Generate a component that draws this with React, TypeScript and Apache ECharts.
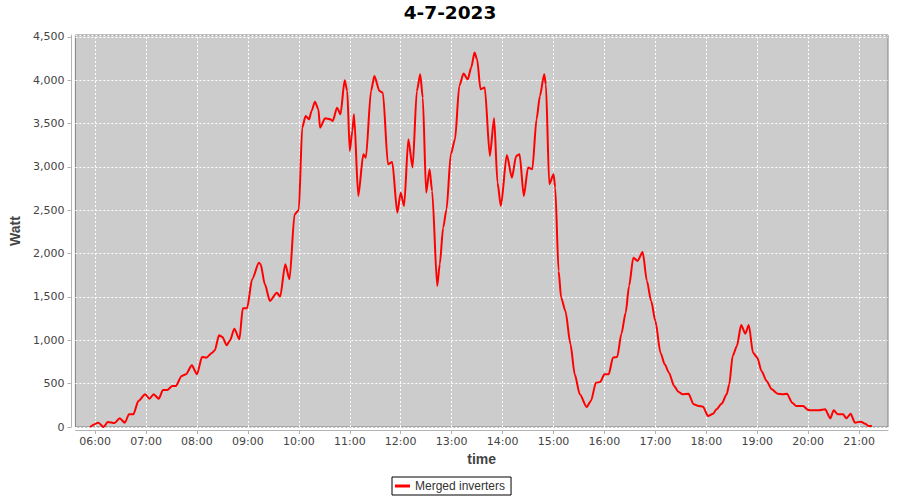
import React, { useEffect, useRef } from "react";
import * as echarts from "echarts";

const chartTitle = "4-7-2023";
const seriesName = "Merged inverters";
const yAxisName = "Watt";
const xAxisName = "time";

const times = [
  "05:54","06:04","06:10","06:15","06:23","06:29","06:35","06:40","06:45","06:51",
  "06:59","07:04","07:09","07:15","07:20","07:25","07:31","07:35","07:42","07:47",
  "07:54","08:00","08:06","08:11","08:18","08:21","08:26","08:30","08:35","08:39",
  "08:44","08:50","08:54","08:59","09:05","09:13","09:15","09:20","09:26","09:34",
  "09:38","09:44","09:49","09:55","10:00","10:04","10:08","10:12","10:15","10:19",
  "10:23","10:25","10:31","10:37","10:40","10:45","10:49","10:54","10:57","11:00",
  "11:03","11:05","11:10","11:16","11:19","11:25","11:29","11:35","11:39","11:45",
  "11:50","11:56","12:00","12:04","12:09","12:14","12:19","12:23","12:26","12:30",
  "12:34","12:37","12:43","12:46","12:50","12:54","12:59","13:04","13:09","13:14",
  "13:19","13:23","13:27","13:30","13:34","13:39","13:45","13:50","13:54","13:58",
  "14:05","14:11","14:16","14:20","14:25","14:30","14:35","14:40","14:44","14:49",
  "14:51","14:55","15:00","15:02","15:06","15:09","15:14","15:20","15:25","15:31",
  "15:39","15:44","15:50","15:55","16:00","16:05","16:10","16:15","16:20","16:25",
  "16:29","16:34","16:39","16:45","16:50","16:55","17:00","17:06","17:11","17:16",
  "17:22","17:27","17:32","17:39","17:45","17:51","17:56","18:02","18:08","18:12",
  "18:18","18:24","18:27","18:31","18:36","18:41","18:46","18:50","18:55","19:00",
  "19:05","19:11","19:17","19:24","19:30","19:35","19:41","19:46","19:54","20:00",
  "20:06","20:13","20:20","20:26","20:30","20:35","20:41","20:45","20:50","20:55",
  "21:02","21:07","21:11","21:15"
];

const watts = [
  0,50,0,58,45,100,50,146,146,300,
  377,327,377,327,427,427,473,473,588,608,
  712,608,808,800,858,885,1058,1038,943,1000,
  1134,1012,1370,1370,1704,1896,1877,1646,1454,1550,
  1504,1877,1704,2454,2504,3454,3589,3550,3646,3754,
  3665,3454,3562,3550,3531,3685,3608,4000,3877,3185,
  3416,3608,2666,3147,3108,3877,4050,3877,3858,3031,
  3058,2473,2704,2550,3320,2993,3877,4070,3800,2704,
  2974,2723,1627,1877,2300,2512,3147,3320,3935,4078,
  4012,4147,4320,4243,3897,3916,3127,3562,2820,2550,
  3139,2877,3127,3147,2666,2993,2974,3550,3820,4070,
  3954,2800,2916,2762,1800,1492,1339,954,608,377,
  231,300,511,519,608,608,800,808,1077,1319,
  1627,1954,1916,2020,1685,1454,1223,858,723,627,
  473,408,377,385,262,242,235,127,154,204,
  269,377,492,819,935,1177,1077,1177,858,800,
  646,531,435,385,377,385,281,242,242,196,
  192,192,204,100,192,146,146,100,154,50,
  62,38,12,12
];

const hourTicks = [
  "06:00","07:00","08:00","09:00","10:00","11:00","12:00","13:00",
  "14:00","15:00","16:00","17:00","18:00","19:00","20:00","21:00"
];

const xMinTime = "05:36.8";
const xMaxTime = "21:34";
const yMin = 0;
const yMax = 4523;
const yStep = 500;

function toMinutes(t: string): number {
  const [h, m] = t.split(":");
  return parseInt(h, 10) * 60 + parseFloat(m);
}

function fmtMinutes(v: number): string {
  const h = Math.floor(v / 60);
  const m = Math.round(v - h * 60);
  return String(h).padStart(2, "0") + ":" + String(m).padStart(2, "0");
}

export default function App() {
  const ref = useRef<HTMLDivElement>(null);

  useEffect(() => {
    if (!ref.current) return;
    const chart = echarts.init(ref.current, null, { renderer: "svg" });
    const data = times.map((t, i) => [toMinutes(t), watts[i]]);
    const tickVals = hourTicks.map(toMinutes);
    const axisGray = "#b4b4b4";
    const labelColor = "#444444";
    const gridLineStyle = { color: "#ffffff", width: 1, type: [2, 2] as number[] };

    chart.setOption({
      animation: false,
      backgroundColor: "#ffffff",
      title: {
        text: chartTitle,
        left: "center",
        top: 3,
        padding: 0,
        textStyle: {
          fontFamily: "DejaVu Sans",
          fontSize: 18.5,
          fontWeight: "bold",
          color: "#000000",
        },
      },
      legend: {
        left: 392,
        top: 477,
        padding: [3, 6, 3, 3],
        borderColor: "#000000",
        borderWidth: 1,
        itemWidth: 15,
        itemHeight: 3,
        icon: "rect",
        textStyle: {
          fontFamily: "Liberation Sans",
          fontSize: 12,
          color: "#333333",
        },
        data: [seriesName],
      },
      grid: {
        left: 75,
        right: 12,
        top: 35,
        bottom: 73,
        show: true,
        backgroundColor: "#cccccc",
        borderColor: "#808080",
        borderWidth: 1,
        containLabel: false,
      },
      xAxis: {
        type: "value",
        min: toMinutes(xMinTime),
        max: toMinutes(xMaxTime),
        offset: 3,
        name: xAxisName,
        nameLocation: "middle",
        nameGap: 22,
        nameTextStyle: {
          fontFamily: "Liberation Sans",
          fontSize: 14,
          fontWeight: "bold",
          color: "#444444",
        },
        axisLine: { show: true, onZero: false, lineStyle: { color: axisGray, width: 1 } },
        axisTick: {
          show: true,
          length: 4,
          inside: false,
          customValues: tickVals,
          lineStyle: { color: axisGray },
        },
        axisLabel: {
          customValues: tickVals,
          margin: 6,
          fontFamily: "DejaVu Sans",
          fontSize: 11,
          color: labelColor,
          formatter: (v: number) => fmtMinutes(v),
        },
        splitLine: { show: false },
      },
      yAxis: {
        type: "value",
        min: yMin,
        max: yMax,
        interval: yStep,
        offset: 4,
        name: yAxisName,
        nameLocation: "middle",
        nameGap: 46,
        nameRotate: 90,
        nameTextStyle: {
          fontFamily: "Liberation Sans",
          fontSize: 14,
          fontWeight: "bold",
          color: "#444444",
        },
        axisLine: { show: true, lineStyle: { color: axisGray, width: 1 } },
        axisTick: { show: true, length: 4, inside: false, lineStyle: { color: axisGray } },
        axisLabel: {
          showMaxLabel: false,
          margin: 7,
          fontFamily: "DejaVu Sans",
          fontSize: 11,
          color: labelColor,
          formatter: (v: number) => (v % yStep === 0 ? v.toLocaleString("en-US") : ""),
        },
        splitLine: {
          show: true,
          lineStyle: gridLineStyle,
        },
      },
      series: [
        {
          name: "hour-grid",
          type: "line",
          data: [],
          z: 1,
          silent: true,
          markLine: {
            z: 1,
            silent: true,
            symbol: ["none", "none"],
            label: { show: false },
            lineStyle: gridLineStyle,
            emphasis: { disabled: true },
            data: tickVals.map((v) => ({ xAxis: v })),
          },
        },
        {
          name: seriesName,
          type: "line",
          data,
          showSymbol: false,
          smooth: 0.25,
          smoothMonotone: "x",
          lineStyle: { color: "#ff0000", width: 2 },
          itemStyle: { color: "#ff0000" },
          z: 3,
        },
      ],
    });

    return () => {
      chart.dispose();
    };
  }, []);

  return (
    <div
      ref={ref}
      style={{ position: "fixed", left: 0, top: 0, width: 900, height: 500 }}
    />
  );
}
